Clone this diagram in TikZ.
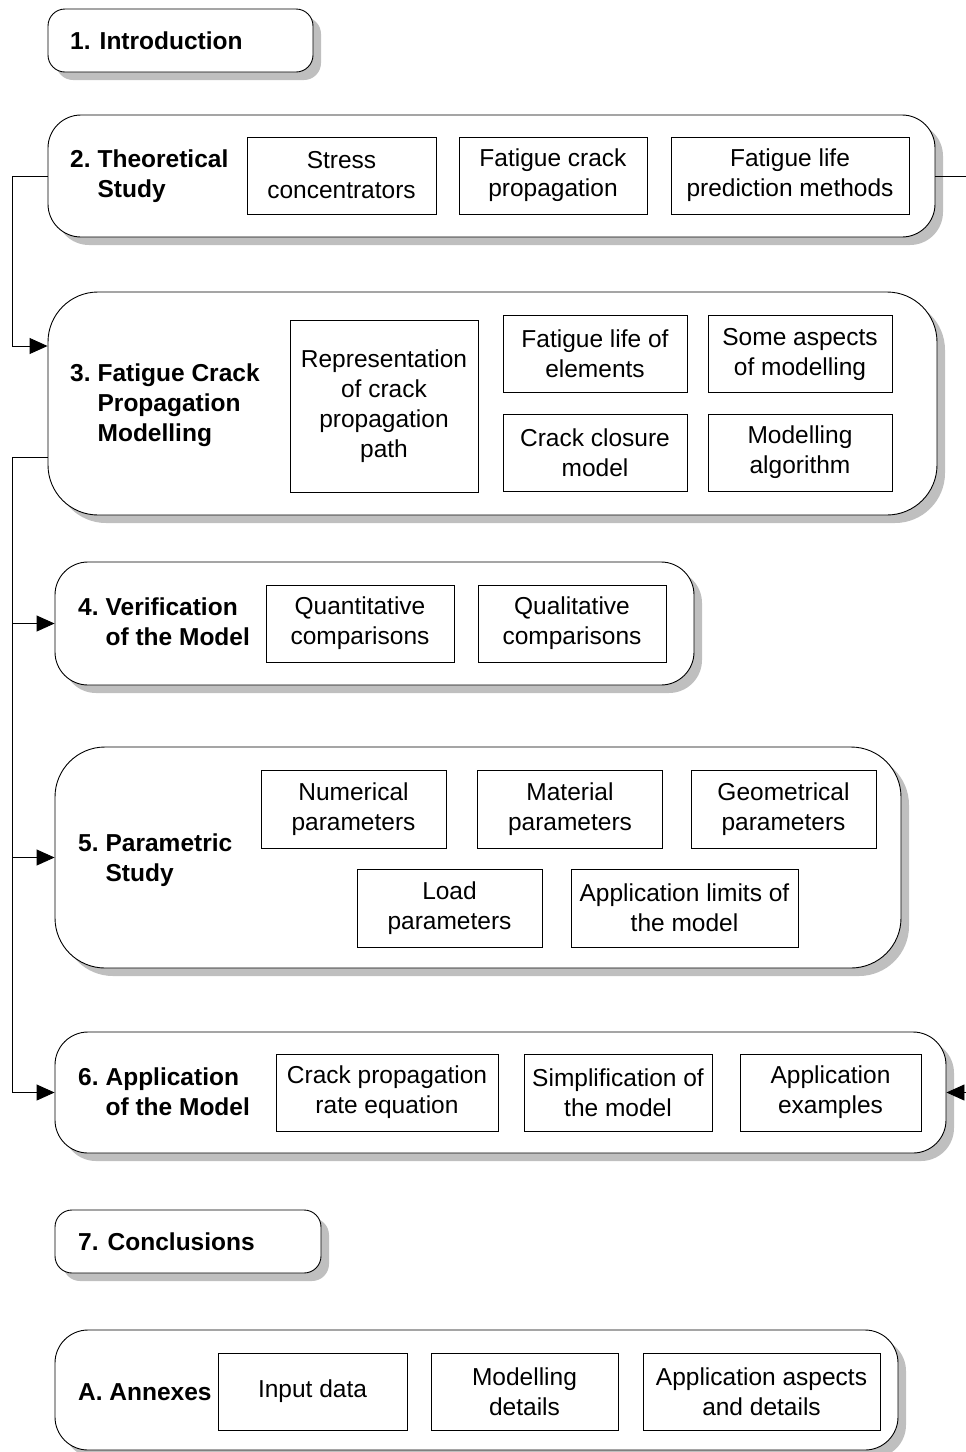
\documentclass[tikz,border=0pt]{standalone}
\usepackage{fontspec}
\setmainfont{Liberation Sans}
\usetikzlibrary{arrows.meta,shadows}
\begin{document}
\begin{tikzpicture}[x=1pt,y=-1pt,
  txt/.style={font=\fontsize{24.5}{30}\selectfont},
  outer/.style={draw=black, line width=0.9pt, fill=white, inner sep=0pt,
    drop shadow={shadow xshift=8pt, shadow yshift=-8pt, fill=black!25, opacity=1}},
  small/.style={outer, rounded corners=17pt},
  mid/.style={outer, rounded corners=33pt},
  tall/.style={outer, rounded corners=50pt},
  item/.style={txt, draw=black, line width=0.8pt, fill=white, align=center, inner sep=0pt, minimum height=77pt},
  lbl/.style={txt, font=\fontsize{24.5}{30}\selectfont\bfseries, anchor=west, inner sep=0pt},
  conn/.style={draw=black, line width=0.9pt},
  arr/.style={conn, -{Triangle[length=18pt,width=16pt]}}
]
\useasboundingbox (0,0) rectangle (966,1452);
\clip (0,0) rectangle (966,1452);

% ---- outer boxes
\node[small, minimum width=265pt, minimum height=63pt] (b1) at (180.5,40.5) {};
\node[mid,  minimum width=887pt, minimum height=122pt] (b2) at (491.5,176) {};
\node[tall, minimum width=889pt, minimum height=223pt] (b3) at (492.5,403.5) {};
\node[mid,  minimum width=639pt, minimum height=123pt] (b4) at (374.5,623.5) {};
\node[tall, minimum width=846pt, minimum height=221pt] (b5) at (478,857.5) {};
\node[mid,  minimum width=891pt, minimum height=121pt] (b6) at (500.5,1092.5) {};
\node[small, minimum width=266pt, minimum height=63pt] (b7) at (188,1241.5) {};
\node[mid,  minimum width=843pt, minimum height=120pt] (bA) at (476.5,1390) {};

% ---- labels
\node[lbl] (l1) at (70,41) {1. Introduction};
\node[lbl] (l2) at (70,176) {\begin{tabular}{@{}l@{\hspace{7pt}}l@{}}2. & Theoretical\\ & Study\end{tabular}};
\node[lbl] (l3) at (70,405) {\begin{tabular}{@{}l@{\hspace{7pt}}l@{}}3. & Fatigue Crack\\ & Propagation\\ & Modelling\end{tabular}};
\node[lbl] (l4) at (78,624) {\begin{tabular}{@{}l@{\hspace{7pt}}l@{}}4. & Verification\\ & of the Model\end{tabular}};
\node[lbl] (l5) at (78,860) {\begin{tabular}{@{}l@{\hspace{7pt}}l@{}}5. & Parametric\\ & Study\end{tabular}};
\node[lbl] (l6) at (78,1094) {\begin{tabular}{@{}l@{\hspace{7pt}}l@{}}6. & Application\\ & of the Model\end{tabular}};
\node[lbl] (l7) at (78,1242) {7. Conclusions};
\node[lbl] (lA) at (78,1392) {A. Annexes};

% ---- box 2 items
\node[item, minimum width=189pt] (s21) at (341.5,175.5) {Stress\\concentrators};
\node[item, minimum width=188pt] (s22) at (553,175.5) {Fatigue crack\\propagation};
\node[item, minimum width=238pt] (s23) at (790,175.5) {Fatigue life\\prediction methods};

% ---- box 3 items
\node[item, minimum width=188pt, minimum height=172pt] (s31) at (384,406) {Representation\\of crack\\propagation\\path};
\node[item, minimum width=184pt] (s32) at (595,354) {Fatigue life of\\elements};
\node[item, minimum width=184pt] (s33) at (800,354) {Some aspects\\of modelling};
\node[item, minimum width=184pt] (s34) at (595,452.5) {Crack closure\\model};
\node[item, minimum width=184pt] (s35) at (800,452.5) {Modelling\\algorithm};

% ---- box 4 items
\node[item, minimum width=188pt] (s41) at (360,623.5) {Quantitative\\comparisons};
\node[item, minimum width=188pt] (s42) at (572,623.5) {Qualitative\\comparisons};

% ---- box 5 items
\node[item, minimum width=185pt, minimum height=78pt] (s51) at (353.5,809) {Numerical\\parameters};
\node[item, minimum width=185pt, minimum height=78pt] (s52) at (570,809) {Material\\parameters};
\node[item, minimum width=185pt, minimum height=78pt] (s53) at (783.5,809) {Geometrical\\parameters};
\node[item, minimum width=185pt, minimum height=78pt] (s54) at (449.5,908) {Load\\parameters};
\node[item, minimum width=227pt, minimum height=78pt] (s55) at (684.5,908) {Application limits of\\the model};

% ---- box 6 items
\node[item, minimum width=222pt] (s61) at (387,1092.5) {Crack propagation\\rate equation};
\node[item, minimum width=188pt] (s62) at (618,1092.5) {Simplification of\\the model};
\node[item, minimum width=181pt] (s63) at (830.5,1092.5) {Application\\examples};

% ---- annex items
\node[item, minimum width=189pt] (sA1) at (312.5,1391.5) {Input data};
\node[item, minimum width=187pt] (sA2) at (524.5,1391.5) {Modelling\\details};
\node[item, minimum width=237pt] (sA3) at (761.5,1391.5) {Application aspects\\and details};

% ---- connectors
\draw[arr] (b2.west) -- ++(-35,0) |- ([yshift=57.5pt]b3.west);
\draw[arr] ([yshift=-53.5pt]b3.west) -- ++(-35,0) coordinate (sp) |- (b6.west);
\draw[arr] (sp |- b4.west) -- (b4.west);
\draw[arr] (sp |- b5.west) -- (b5.west);
\coordinate (eR1) at (970,176);
\coordinate (eR2) at (970,1092.5);
\draw[conn] (b2.east) -- (eR1);
\draw[arr] (eR2) -- (b6.east);
\end{tikzpicture}
\end{document}
